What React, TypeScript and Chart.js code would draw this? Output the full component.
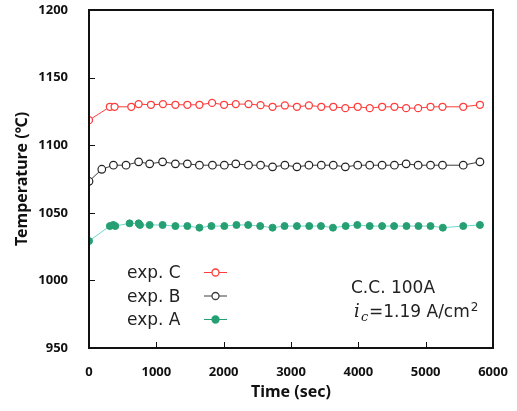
import React, { useEffect, useRef } from "react";
import { Chart, registerables } from "chart.js";

Chart.register(...registerables);

const timeC = [0, 310, 380, 628, 737, 920, 1098, 1283, 1461, 1640, 1828, 2006, 2180, 2369, 2548, 2726, 2909, 3088, 3266, 3450, 3628, 3807, 3991, 4169, 4353, 4536, 4710, 4888, 5072, 5250, 5558, 5806];
const tempC = [1118.5, 1128.4, 1128.4, 1128.4, 1130.4, 1129.9, 1130.4, 1129.9, 1129.9, 1129.9, 1131.3, 1129.9, 1130.4, 1130.4, 1129.6, 1128.4, 1129.4, 1128.4, 1129.4, 1128.4, 1128.4, 1127.4, 1128.4, 1127.4, 1128.4, 1128.4, 1127.4, 1127.4, 1128.4, 1128.4, 1128.4, 1129.9];

const timeB = [0, 190, 363, 550, 737, 901, 1093, 1283, 1461, 1640, 1833, 2010, 2180, 2369, 2548, 2726, 2909, 3088, 3266, 3450, 3628, 3807, 3991, 4169, 4353, 4536, 4710, 4888, 5072, 5250, 5558, 5806];
const tempB = [1073.3, 1082.2, 1085.2, 1085.2, 1087.7, 1086.2, 1087.7, 1086.2, 1086.2, 1085.2, 1085.2, 1085.2, 1086.2, 1085.2, 1085.2, 1084.0, 1085.2, 1084.0, 1085.2, 1085.2, 1085.2, 1084.0, 1085.2, 1085.2, 1085.2, 1085.2, 1086.2, 1085.2, 1085.2, 1085.2, 1085.2, 1087.7];

const timeA = [0, 310, 360, 390, 603, 737, 757, 901, 1093, 1283, 1461, 1640, 1818, 2010, 2190, 2364, 2543, 2726, 2904, 3088, 3271, 3445, 3623, 3812, 3985, 4169, 4353, 4531, 4715, 4893, 5072, 5255, 5558, 5806];
const tempA = [1029.1, 1040.2, 1041.0, 1040.2, 1042.2, 1042.2, 1041.0, 1041.0, 1041.0, 1040.2, 1040.2, 1039.0, 1040.2, 1040.2, 1041.0, 1041.0, 1040.2, 1039.0, 1040.2, 1040.2, 1040.2, 1040.2, 1039.0, 1040.2, 1041.0, 1040.2, 1040.2, 1040.2, 1040.2, 1040.2, 1040.2, 1039.0, 1040.2, 1041.0];

const xTicks = [0, 1000, 2000, 3000, 4000, 5000, 6000];
const yTicks = [950, 1000, 1050, 1100, 1150, 1200];

const legendLabels = ["exp. C", "exp. B", "exp. A"];

const RED = "rgb(255,60,60)";
const GRAY = "rgb(60,60,60)";
const GREEN = "rgb(38,160,115)";
const CYAN = "rgb(110,215,205)";

const TXT = "'DejaVu Sans'";

const framePlugin = {
  id: "frameTicks",
  afterDraw(chart: any) {
    const { ctx, chartArea } = chart;
    const xs = chart.scales.x;
    const ys = chart.scales.y;
    ctx.save();
    ctx.strokeStyle = "#111";
    ctx.lineWidth = 2;
    ctx.strokeRect(chartArea.left, chartArea.top, chartArea.right - chartArea.left, chartArea.bottom - chartArea.top);
    ctx.lineWidth = 1;
    ctx.beginPath();
    xTicks.slice(1, -1).forEach((v) => {
      const px = Math.round(xs.getPixelForValue(v)) + 0.5;
      ctx.moveTo(px, chartArea.bottom);
      ctx.lineTo(px, chartArea.bottom - 6);
    });
    yTicks.slice(1, -1).forEach((v) => {
      const py = Math.round(ys.getPixelForValue(v)) + 0.5;
      ctx.moveTo(chartArea.left, py);
      ctx.lineTo(chartArea.left + 6, py);
    });
    ctx.stroke();

    // legend
    const rows = [
      { color: RED, line: RED, fill: "#fff" },
      { color: GRAY, line: GRAY, fill: "#fff" },
      { color: GREEN, line: GREEN, fill: GREEN },
    ];
    ctx.font = `17px ${TXT}`;
    ctx.textBaseline = "alphabetic";
    ctx.textAlign = "left";
    const rowBase = [278, 301.5, 325];
    rows.forEach((r, i) => {
      const base = rowBase[i];
      const y = base - 6;
      ctx.fillStyle = "#222";
      ctx.fillText(legendLabels[i], 127, base);
      ctx.strokeStyle = r.line;
      ctx.lineWidth = 1;
      ctx.beginPath();
      ctx.moveTo(204, y + 0.5);
      ctx.lineTo(227, y + 0.5);
      ctx.stroke();
      ctx.beginPath();
      ctx.arc(215.5, y + 0.5, 3.5, 0, Math.PI * 2);
      ctx.fillStyle = r.fill;
      ctx.fill();
      ctx.strokeStyle = r.color;
      ctx.lineWidth = 1.3;
      ctx.stroke();
    });

    // annotation
    ctx.fillStyle = "#222";
    ctx.font = `17px ${TXT}`;
    ctx.fillText("C.C. 100A", 351, 293);
    ctx.font = "italic 18px 'DejaVu Serif'";
    ctx.fillText("i", 354, 317);
    ctx.font = "italic 13px 'DejaVu Serif'";
    ctx.fillText("c", 361, 321);
    ctx.font = `17px ${TXT}`;
    ctx.fillText("=1.19 A/cm", 369, 317);
    const w = ctx.measureText("=1.19 A/cm").width;
    ctx.font = `12px ${TXT}`;
    ctx.fillText("2", 369 + w + 1, 311);
    ctx.restore();
  },
};

export default function App() {
  const ref = useRef<HTMLCanvasElement>(null);
  useEffect(() => {
    const pt = (xs: number[], ys: number[]) => xs.map((x, i) => ({ x, y: ys[i] }));
    const tickFont = { family: "'Noto Sans'", size: 13, weight: "bold" };
    const chart = new Chart(ref.current!, {
      type: "scatter",
      data: {
        datasets: [
          {
            label: "exp. C",
            data: pt(timeC, tempC),
            showLine: true,
            borderColor: RED,
            borderWidth: 1,
            pointBorderColor: RED,
            pointBackgroundColor: "#fff",
            pointRadius: 3.5,
            pointBorderWidth: 1.3,
          },
          {
            label: "exp. B",
            data: pt(timeB, tempB),
            showLine: true,
            borderColor: GRAY,
            borderWidth: 1,
            pointBorderColor: "#222",
            pointBackgroundColor: "#fff",
            pointRadius: 3.8,
            pointBorderWidth: 1.2,
          },
          {
            label: "exp. A",
            data: pt(timeA, tempA),
            showLine: true,
            borderColor: CYAN,
            borderWidth: 1,
            pointBorderColor: GREEN,
            pointBackgroundColor: GREEN,
            pointRadius: 3.5,
            pointBorderWidth: 1,
          },
        ],
      },
      options: {
        animation: false,
        responsive: false,
        layout: { padding: { left: 0, right: 24, top: 10, bottom: 0 } },
        plugins: { legend: { display: false }, tooltip: { enabled: false } },
        scales: {
          x: {
            type: "linear",
            min: 0,
            max: 6000,
            afterFit: (s: any) => { s.height = 63; s.paddingLeft = 0; s.paddingRight = 0; },
            afterBuildTicks: (s: any) => { s.ticks = xTicks.map((v) => ({ value: v })); },
            grid: { display: false },
            border: { display: false },
            ticks: { padding: 8, color: "#111", font: tickFont, callback: (v: any) => String(v) },
            title: { display: true, text: "Time (sec)", color: "#111", padding: { top: 0, bottom: 9 }, font: { family: "'Noto Sans'", size: 16, weight: "bold" } },
          },
          y: {
            type: "linear",
            min: 950,
            max: 1200,
            afterFit: (s: any) => { s.width = 89; s.paddingTop = 0; s.paddingBottom = 0; },
            afterBuildTicks: (s: any) => { s.ticks = yTicks.map((v) => ({ value: v })); },
            grid: { display: false },
            border: { display: false },
            ticks: { padding: 13, color: "#111", font: tickFont, callback: (v: any) => String(v) },
            title: { display: true, text: "Temperature (℃)", color: "#111", padding: { top: 13, bottom: 0 }, font: { family: "'Noto Sans'", size: 16, weight: "bold" } },
          },
        },
      },
      plugins: [framePlugin],
    } as any);
    return () => chart.destroy();
  }, []);
  return (
    <div style={{ position: "fixed", left: 0, top: 0, width: 517, height: 411, background: "#fff" }}>
      <canvas ref={ref} width={517} height={411} style={{ width: 517, height: 411, display: "block" }} />
    </div>
  );
}
